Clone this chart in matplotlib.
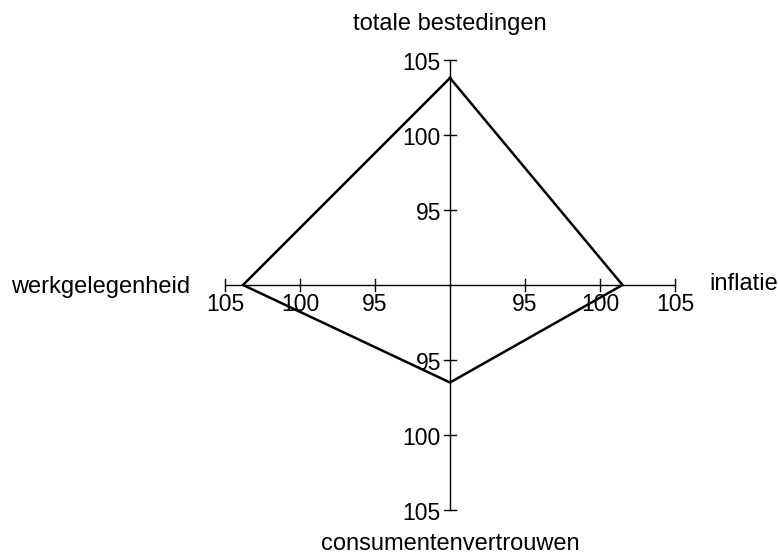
import matplotlib
matplotlib.use("Agg")
import matplotlib.pyplot as plt

plt.rcParams['font.family'] = ['Liberation Sans', 'DejaVu Sans']

# kenmerken, met de richting van elke as
names = ["totale bestedingen", "inflatie", "consumentenvertrouwen", "werkgelegenheid"]
directions = [(0, 1), (1, 0), (0, -1), (-1, 0)]
values = [103.8, 101.5, 96.5, 103.8]
ticks = [95, 100, 105]
origin = 90
axis_max = 105


def main():
    fig = plt.figure(figsize=(7.78, 5.57), dpi=100)
    ax = fig.add_axes([0, 0, 1, 1])
    ax.set_xlim(-30, 328 / 15)
    ax.set_ylim(-272 / 15, 19)
    ax.axis("off")

    fs = 16.5
    fs_label = 17
    tl = 0.37
    for name, (dx, dy) in zip(names, directions):
        r = axis_max - origin
        ax.plot([0, dx * r], [0, dy * r], color="black", lw=1.0)
        for t in ticks:
            d = t - origin
            x, y = dx * d, dy * d
            if dx == 0:
                ax.plot([x - tl, x + tl], [y, y], color="black", lw=1.0)
                ax.text(x - 0.6, y - 0.25, str(t), ha="right", va="center", fontsize=fs)
            else:
                ax.plot([x, x], [y - tl, y + tl], color="black", lw=1.0)
                ax.text(x, y - 0.55, str(t), ha="center", va="top", fontsize=fs)

    # labels van de assen
    ax.text(0, 17.4, names[0], ha="center", va="center", fontsize=fs_label)
    ax.text(17.27, 0.05, names[1], ha="left", va="center", fontsize=fs_label)
    ax.text(0, -17.3, names[2], ha="center", va="center", fontsize=fs_label)
    ax.text(-17.33, -0.1, names[3], ha="right", va="center", fontsize=fs_label)

    xs = [dx * (v - origin) for (dx, dy), v in zip(directions, values)]
    ys = [dy * (v - origin) for (dx, dy), v in zip(directions, values)]
    ax.plot(xs + xs[:1], ys + ys[:1], color="black", lw=1.8, solid_joinstyle="miter")

    fig.savefig("out.png", dpi=100)


if __name__ == '__main__':
    main()
